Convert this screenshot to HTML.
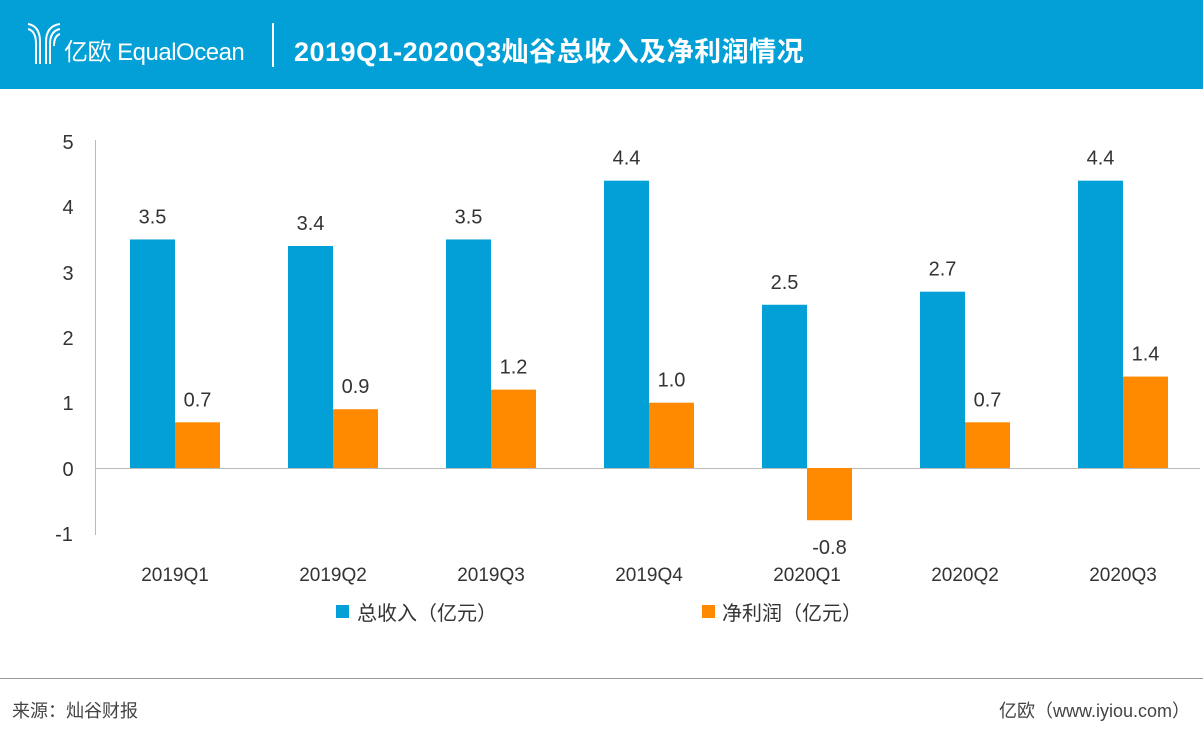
<!DOCTYPE html>
<html><head><meta charset="utf-8"><style>
body{margin:0;width:1203px;height:738px;background:#fff;overflow:hidden;position:relative;font-family:"Liberation Sans","Noto Sans CJK SC",sans-serif;}
.t{position:absolute;white-space:nowrap;}
</style></head><body>
<div style="position:absolute;left:0;top:0;width:1203px;height:89px;background:#02a0d6;"></div>
<svg style="position:absolute;left:26px;top:22px" width="36" height="44" viewBox="0 0 36 44" fill="none" stroke="#fff" stroke-width="2">
<path d="M2 2 Q14 4 14 20 V42"/><path d="M2 7 Q10 9 10 22 V42"/><path d="M34 2 Q20 4 20 20 V42"/><path d="M34 7 Q24 9 24 22 V42"/><path d="M34 12 Q28 14 28 24"/>
</svg>
<div class="t" style="left:64px;top:38px;font-size:24px;color:#fff;line-height:30px;letter-spacing:-0.5px;">亿欧 EqualOcean</div>
<div style="position:absolute;left:272px;top:23px;width:2px;height:44px;background:#fff;"></div>
<div class="t" style="left:294px;top:36px;font-size:27px;font-weight:bold;color:#fff;line-height:32px;letter-spacing:0.5px;">2019Q1-2020Q3灿谷总收入及净利润情况</div>
<svg style="position:absolute;left:0;top:0" width="1203" height="738" font-family="Liberation Sans,Noto Sans CJK SC,sans-serif">
<line x1="95.5" y1="140" x2="95.5" y2="535" stroke="#bbb"/>
<line x1="95" y1="468.5" x2="1200" y2="468.5" stroke="#bbb"/>
<g font-size="20" fill="#333" text-anchor="middle">
<text x="68" y="149">5</text><text x="68" y="214">4</text><text x="68" y="280">3</text><text x="68" y="345">2</text><text x="68" y="410">1</text><text x="68" y="476">0</text><text x="64" y="541">-1</text>
</g>
<g id="bars"></g>
<line x1="0" y1="678.5" x2="1203" y2="678.5" stroke="#999"/>
</svg>
<script>
var rev=[3.5,3.4,3.5,4.4,2.5,2.7,4.4],net=[0.7,0.9,1.2,1.0,-0.8,0.7,1.4],cat=["2019Q1","2019Q2","2019Q3","2019Q4","2020Q1","2020Q2","2020Q3"];
var s="",u=65.3,z=468;
for(var i=0;i<7;i++){var x=130+158*i;
s+='<rect x="'+x+'" y="'+(z-rev[i]*u)+'" width="45" height="'+(rev[i]*u)+'" fill="#02a0d6"/>';
var h=net[i]*u;
s+='<rect x="'+(x+45)+'" y="'+(h>0?z-h:z)+'" width="45" height="'+Math.abs(h)+'" fill="#ff8a00"/>';
s+='<text x="'+(x+22.5)+'" y="'+(z-rev[i]*u-16)+'" font-size="20" fill="#333" text-anchor="middle">'+rev[i].toFixed(1)+'</text>';
var ly=h>0?z-h-16:z-h+34;
s+='<text x="'+(x+67.5)+'" y="'+ly+'" font-size="20" fill="#333" text-anchor="middle">'+net[i].toFixed(1)+'</text>';
s+='<text x="'+(x+45)+'" y="581" font-size="19" fill="#333" text-anchor="middle">'+cat[i]+'</text>';}
s+='<rect x="336" y="605" width="13" height="13" fill="#02a0d6"/><text x="357" y="620" font-size="20" fill="#333">总收入（亿元）</text>';
s+='<rect x="702" y="605" width="13" height="13" fill="#ff8a00"/><text x="722" y="620" font-size="20" fill="#333">净利润（亿元）</text>';
s+='<text x="12" y="717" font-size="18" fill="#444">来源：灿谷财报</text><text x="1190" y="717" font-size="18" fill="#444" text-anchor="end">亿欧（www.iyiou.com）</text>';
document.getElementById("bars").innerHTML=s;
</script>
</body></html>
